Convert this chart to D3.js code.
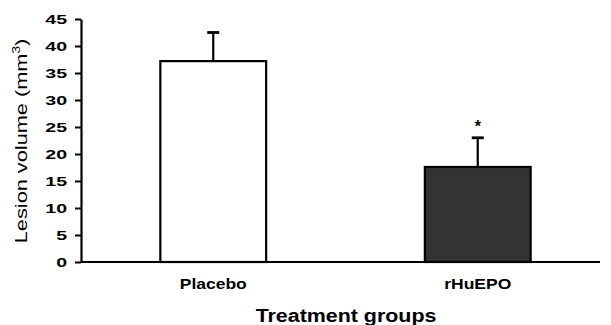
<!DOCTYPE html>
<html>
<head>
<meta charset="utf-8">
<script src="https://cdn.jsdelivr.net/npm/d3@7"></script>
<style>
  body { margin: 0; background: #fff; }
  svg { display: block; font-family: "Liberation Sans", Arial, sans-serif; }
</style>
</head>
<body>
<div id="chart-area"></div>
<script>
// SVG Size
var width = 611,
    height = 325;

// data
var groups = ["Placebo", "rHuEPO"];
var means = [37.2, 17.6];
var errors = [5.3, 5.4];
var fills = ["#ffffff", "#333333"];
var stars = ["", "*"];
var yTicks = [0, 5, 10, 15, 20, 25, 30, 35, 40, 45];

var plotLeft = 81, plotRight = 600, plotTop = 19, plotBottom = 262;

// the fonts in the original are wide, so texts get a horizontal stretch
var tickStretch = 1.45;

var svg = d3.select("#chart-area")
    .append("svg")
    .attr("width", width)
    .attr("height", height);

var x = d3.scaleBand()
    .domain(groups)
    .range([plotLeft, 610])
    .paddingInner(0.6)
    .paddingOuter(0.3);

var y = d3.scaleLinear()
    .domain([0, 45])
    .range([plotBottom, plotTop]);

// bars
svg.selectAll("rect.bar")
    .data(groups)
    .enter()
    .append("rect")
    .attr("class", "bar")
    .attr("x", function(d) { return x(d); })
    .attr("y", function(d, i) { return y(means[i]); })
    .attr("width", x.bandwidth())
    .attr("height", function(d, i) { return y(0) - y(means[i]); })
    .attr("fill", function(d, i) { return fills[i]; })
    .attr("stroke", "#000")
    .attr("stroke-width", 2.2);

// error bars (upper only)
var errG = svg.selectAll("g.err")
    .data(groups)
    .enter()
    .append("g")
    .attr("class", "err");

errG.append("line")
    .attr("x1", function(d) { return x(d) + x.bandwidth() / 2; })
    .attr("x2", function(d) { return x(d) + x.bandwidth() / 2; })
    .attr("y1", function(d, i) { return y(means[i]); })
    .attr("y2", function(d, i) { return y(means[i] + errors[i]); })
    .attr("stroke", "#000")
    .attr("stroke-width", 2.2);

errG.append("line")
    .attr("x1", function(d) { return x(d) + x.bandwidth() / 2 - 6; })
    .attr("x2", function(d) { return x(d) + x.bandwidth() / 2 + 6; })
    .attr("y1", function(d, i) { return y(means[i] + errors[i]); })
    .attr("y2", function(d, i) { return y(means[i] + errors[i]); })
    .attr("stroke", "#000")
    .attr("stroke-width", 2.8);

errG.append("text")
    .attr("x", function(d) { return x(d) + x.bandwidth() / 2; })
    .attr("y", function(d, i) { return y(means[i] + errors[i]) - 6; })
    .attr("text-anchor", "middle")
    .attr("font-size", "16px")
    .attr("font-weight", "bold")
    .text(function(d, i) { return stars[i]; });

// y axis
var yAxis = d3.axisLeft(y)
    .tickValues(yTicks)
    .tickSize(6)
    .tickSizeOuter(0);

var yG = svg.append("g")
    .attr("transform", "translate(" + plotLeft + ",0)")
    .call(yAxis);
yG.select(".domain").attr("stroke-width", 2.2);
yG.selectAll(".tick line").attr("stroke-width", 2);
yG.selectAll(".tick text")
    .attr("x", -14 / tickStretch)
    .attr("transform", "scale(" + tickStretch + ",1)")
    .attr("font-size", "13.5px")
    .attr("font-weight", "bold")
    .attr("fill", "#000")
    .attr("font-family", "Liberation Sans, Arial, sans-serif");

// x axis
var xAxis = d3.axisBottom(x)
    .tickSize(0)
    .tickSizeOuter(0);

var xG = svg.append("g")
    .attr("transform", "translate(0," + plotBottom + ")")
    .call(xAxis);
xG.select(".domain")
    .attr("d", "M" + plotLeft + ",0H" + plotRight)
    .attr("stroke-width", 2.2);
xG.selectAll(".tick text")
    .attr("y", 27)
    .attr("dy", 0)
    .attr("transform", "scale(1.25,1)")
    .attr("font-size", "14px")
    .attr("font-weight", "bold")
    .attr("fill", "#000")
    .attr("font-family", "Liberation Sans, Arial, sans-serif");

// axis titles
svg.append("text")
    .attr("text-anchor", "middle")
    .attr("transform", "translate(346,322)scale(1.19,1)")
    .attr("font-size", "18px")
    .attr("font-weight", "bold")
    .text("Treatment groups");

var yTitle = svg.append("text")
    .attr("text-anchor", "middle")
    .attr("transform", "translate(27,141)rotate(-90)scale(1.36,1)")
    .attr("font-size", "16px");
yTitle.append("tspan").text("Lesion volume (mm");
yTitle.append("tspan").attr("dy", -7).attr("font-size", "10px").text("3");
yTitle.append("tspan").attr("dy", 7).text(")");
</script>
</body>
</html>
